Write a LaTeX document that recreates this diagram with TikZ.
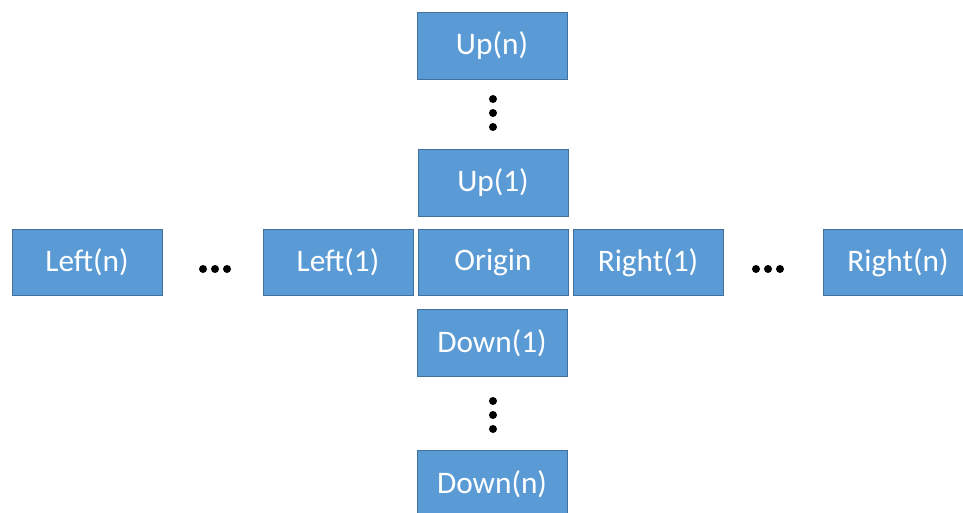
\documentclass[tikz,border=0pt]{standalone}
\usepackage{fontspec}
\setmainfont{Carlito}
\definecolor{boxfill}{HTML}{5B9BD5}
\definecolor{boxline}{HTML}{41719C}
\begin{document}
\begin{tikzpicture}[x=0.75pt,y=-0.75pt,
  cell/.style={draw=boxline,fill=boxfill,line width=0.6pt,text=white,minimum width=112.5pt,minimum height=50pt,inner sep=0pt,font=\fontsize{23.5}{26}\selectfont},
  dot/.style={circle,fill=black,inner sep=0pt,minimum size=6pt}]
\useasboundingbox (0,0) rectangle (963,512);
\clip (0,0) rectangle (963,512);
\node[cell] (upn) at (492,46) {Up(n)};
\node[cell] (up1) at (493,183) {Up(1)};
\node[cell] (leftn) at (87,262.5) {Left(n)};
\node[cell] (left1) at (338,262.5) {Left(1)};
\node[cell] (origin) at (493,262.5) {Origin};
\node[cell] (right1) at (648,262.5) {Right(1)};
\node[cell] (rightn) at (898,262.5) {Right(n)};
\node[cell] (down1) at (492,343) {Down(1)};
\node[cell] (downn) at (492,484) {Down(n)};
\foreach \y [count=\i] in {99,113,127} \node[dot] (vu\i) at (493,\y) {};
\foreach \y [count=\i] in {401,415,429} \node[dot] (vd\i) at (493,\y) {};
\foreach \x [count=\i] in {203,215,227} \node[dot] (hl\i) at (\x,269) {};
\foreach \x [count=\i] in {756,768,780} \node[dot] (hr\i) at (\x,269) {};
\end{tikzpicture}
\end{document}
